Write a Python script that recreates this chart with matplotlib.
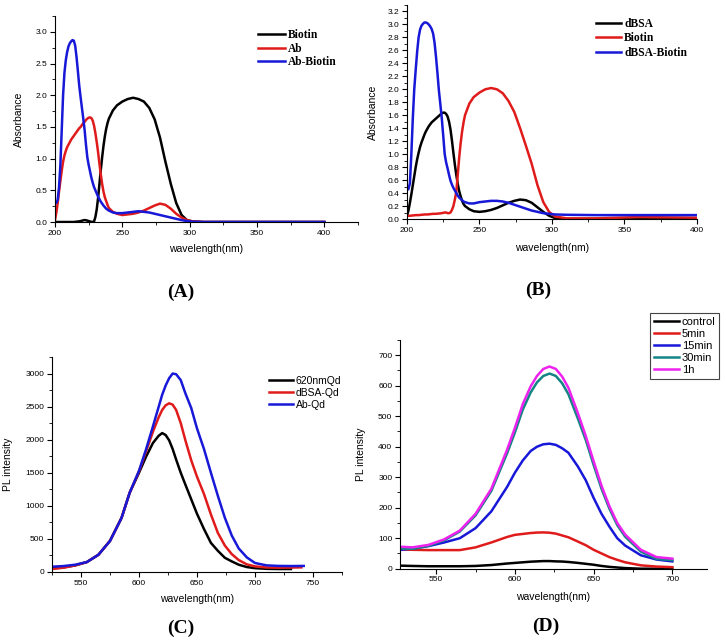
import matplotlib
matplotlib.use("Agg")
import matplotlib.pyplot as plt
from matplotlib.ticker import MultipleLocator, FormatStrFormatter

plt.rcParams["font.family"] = ["Liberation Sans", "DejaVu Sans"]

RED = "#e01b1b"
BLUE = "#1818d8"
TEAL = "#148484"
MAGENTA = "#ee22ee"

# ---- (A) absorbance: Biotin / Ab / Ab-Biotin  (1 nm steps up to 240 nm)
a_wl = list(range(200, 241)) + [243, 246, 250, 254, 258, 262, 266, 270, 274, 278, 282,
                                286, 290, 294, 298, 302, 310, 330, 360, 400]
a_biotin = [0, 0, 0, 0, 0, 0, 0, 0, 0, 0, 0, 0, 0, 0, 0, 0.003, 0.005, 0.008, 0.01, 0.015,
            0.02, 0.027, 0.03, 0.028, 0.022, 0.015, 0.008, 0.003, 0.0, 0.01, 0.08, 0.2, 0.38, 0.6, 0.82,
            1.02, 1.2, 1.35, 1.47, 1.56, 1.63,
            1.76, 1.84, 1.9, 1.94, 1.96, 1.94, 1.9, 1.8, 1.62, 1.33, 0.95,
            0.6, 0.3, 0.11, 0.03, 0.01, 0.0, 0.0, 0.0, 0.0]
a_ab = [0.03, 0.15, 0.3, 0.48, 0.65, 0.81, 0.95, 1.05, 1.12, 1.18, 1.22, 1.26, 1.3, 1.33, 1.36,
        1.39, 1.42, 1.45, 1.48, 1.5, 1.53, 1.56, 1.58, 1.61, 1.63, 1.645, 1.65, 1.64, 1.6, 1.52,
        1.4, 1.26, 1.1, 0.92, 0.75, 0.6, 0.48, 0.39, 0.33, 0.27, 0.22,
        0.16, 0.13, 0.11, 0.12, 0.13, 0.15, 0.18, 0.22, 0.26, 0.29, 0.27,
        0.21, 0.13, 0.07, 0.03, 0.01, 0.0, 0.0, 0.0, 0.0]
a_ab_biotin = [0.3, 0.3, 0.35, 0.55, 0.9, 1.45, 2.0, 2.35, 2.55, 2.68, 2.77, 2.82, 2.85, 2.87, 2.86,
               2.78, 2.6, 2.38, 2.15, 1.97, 1.8, 1.63, 1.45, 1.22, 1.02, 0.9, 0.8, 0.7, 0.62, 0.55,
               0.5, 0.45, 0.4, 0.36, 0.32, 0.29, 0.26, 0.235, 0.21, 0.195, 0.18,
               0.15, 0.14, 0.14, 0.15, 0.16, 0.17, 0.16, 0.15, 0.13, 0.11, 0.09,
               0.07, 0.05, 0.03, 0.015, 0.005, 0.0, 0.0, 0.0, 0.0]

# ---- (B) absorbance: dBSA / Biotin / dBSA-Biotin
b_wl = a_wl
b_dbsa = [0.05, 0.13, 0.25, 0.38, 0.52, 0.66, 0.8, 0.92, 1.02, 1.11, 1.18, 1.24, 1.3, 1.35, 1.39,
          1.43, 1.46, 1.49, 1.51, 1.53, 1.55, 1.57, 1.59, 1.61, 1.63, 1.64, 1.64, 1.62, 1.58, 1.5,
          1.38, 1.21, 1.02, 0.84, 0.68, 0.54, 0.43, 0.35, 0.28, 0.23, 0.2,
          0.15, 0.12, 0.11, 0.12, 0.14, 0.17, 0.21, 0.25, 0.28, 0.3, 0.29,
          0.25, 0.18, 0.11, 0.05, 0.015, 0.0, 0.0, 0.0, 0.0]
b_biotin = [0.05, 0.05, 0.05, 0.052, 0.055, 0.057, 0.06, 0.06, 0.06, 0.062, 0.065, 0.067, 0.07, 0.07, 0.07,
            0.072, 0.075, 0.077, 0.08, 0.08, 0.08, 0.082, 0.085, 0.087, 0.09, 0.095, 0.1, 0.1, 0.09, 0.09,
            0.1, 0.14, 0.2, 0.3, 0.42, 0.68, 0.95, 1.17, 1.35, 1.49, 1.6,
            1.78, 1.88, 1.95, 2.0, 2.02, 2.0, 1.94, 1.82, 1.65, 1.4, 1.13,
            0.85, 0.52, 0.26, 0.11, 0.04, 0.01, 0.01, 0.03, 0.02]
b_dbsa_biotin = [0.45, 0.46, 0.55, 1.0, 1.55, 2.0, 2.3, 2.58, 2.8, 2.92, 2.98, 3.01, 3.03, 3.03, 3.02,
                 3.0, 2.97, 2.93, 2.86, 2.72, 2.5, 2.25, 1.98, 1.77, 1.55, 1.28, 1.0, 0.87, 0.78, 0.68,
                 0.59, 0.53, 0.48, 0.44, 0.4, 0.36, 0.33, 0.31, 0.29, 0.27, 0.26,
                 0.24, 0.24, 0.26, 0.27, 0.28, 0.28, 0.27, 0.25, 0.22, 0.19, 0.16,
                 0.13, 0.11, 0.09, 0.08, 0.07, 0.065, 0.06, 0.06, 0.06]

# ---- (C) PL spectra of QDs
c_wl_qd = [525, 535, 545, 555, 565, 575, 585, 592, 600, 606, 612, 617, 620, 623, 626, 629, 632, 636,
           640, 645, 650, 656, 662, 668, 674, 680, 686, 693, 700, 710, 720, 731]
c_qd = [55, 70, 100, 150, 260, 470, 820, 1200, 1500, 1740, 1950, 2060, 2100, 2070, 1990, 1860, 1700, 1500,
        1320, 1100, 880, 650, 440, 320, 215, 160, 110, 75, 58, 48, 45, 45]
c_wl_dbsa = c_wl_qd + [740]
c_dbsa_qd = [45, 65, 100, 150, 260, 470, 820, 1200, 1520, 1820, 2120, 2340, 2450, 2520, 2550, 2530, 2450, 2250,
             1990, 1690, 1440, 1180, 870, 590, 400, 270, 180, 115, 85, 68, 65, 67, 70]
c_wl_ab = c_wl_qd + [742]
c_ab_qd = [80, 90, 110, 150, 260, 470, 820, 1200, 1530, 1850, 2200, 2500, 2680, 2820, 2930, 3000, 2990, 2900,
           2700, 2480, 2170, 1860, 1500, 1150, 820, 550, 355, 220, 136, 100, 92, 90, 92]

# ---- (D) PL vs incubation time
d_wl = [527, 535, 545, 555, 565, 575, 585, 595, 600, 605, 610, 614, 618, 622, 626, 630, 634,
        640, 645, 650, 655, 660, 665, 670, 680, 690, 700]
d_control = [10, 9, 8, 8, 8, 9, 12, 17, 19, 21, 23, 24, 25, 25, 24, 23.5, 22,
             19, 16, 13, 9, 6, 4, 2, 0, 0, 0]
d_5min = [63, 62, 61, 61, 61, 70, 86, 104, 111, 114, 117, 118.5, 119, 118, 115, 109, 103,
          89, 77, 62, 50, 38, 29, 21, 11, 7, 5]
d_15min = [62, 66, 74, 86, 100, 133, 188, 268, 315, 355, 386, 400, 408, 410, 406, 395, 380,
           335, 290, 232, 180, 138, 100, 76, 44, 30, 24]
d_30min = [66, 65, 75, 93, 122, 175, 255, 378, 447, 522, 578, 611, 632, 640, 632, 608, 572,
           492, 422, 340, 262, 197, 143, 105, 56, 32, 28]
d_1h = [72, 70, 78, 96, 125, 180, 262, 390, 462, 540, 598, 632, 655, 663, 655, 630, 593,
        510, 435, 352, 272, 205, 150, 112, 62, 38, 33]

W, H = 726, 641
fig = plt.figure(figsize=(W / 100, H / 100), dpi=100)


def px_axes(left, top, right, bottom):
    return fig.add_axes([left / W, 1 - bottom / H, (right - left) / W, (bottom - top) / H])


def style(ax, ylabel, ylab_x, xlab_y):
    for s in ("top", "right"):
        ax.spines[s].set_visible(False)
    ax.tick_params(which="both", direction="out", labelsize=6, pad=2)
    ax.tick_params(which="major", length=3.5, width=0.8)
    ax.tick_params(which="minor", length=2, width=0.6)
    ax.set_xlabel("wavelength(nm)", fontsize=7.5)
    ax.set_ylabel(ylabel, fontsize=7.5)
    ax.xaxis.set_label_coords(0.5, xlab_y)
    ax.yaxis.set_label_coords(ylab_x, 0.5)


def legend_at(ax, x, y, **kw):
    opts = dict(loc="upper left", bbox_to_anchor=(x / W, 1 - y / H), bbox_transform=fig.transFigure,
                borderaxespad=0, borderpad=0, frameon=False, handletextpad=0.25, labelspacing=0.15)
    opts.update(kw)
    return ax.legend(**opts)


lw = 1.8
bold_serif = {"family": "Liberation Serif", "weight": "bold", "size": 8.3}

# (A)
ax = px_axes(55, 16, 358, 222)
ax.plot(a_wl, a_biotin, color="black", lw=lw, label="Biotin")
ax.plot(a_wl, a_ab, color=RED, lw=lw, label="Ab")
ax.plot(a_wl, a_ab_biotin, color=BLUE, lw=lw, label="Ab-Biotin")
ax.set_xlim(200, 425)
ax.set_ylim(0, 3.25)
ax.xaxis.set_major_locator(MultipleLocator(50))
ax.xaxis.set_minor_locator(MultipleLocator(25))
ax.yaxis.set_major_locator(MultipleLocator(0.5))
ax.yaxis.set_minor_locator(MultipleLocator(0.25))
ax.yaxis.set_major_formatter(FormatStrFormatter("%.1f"))
style(ax, "Absorbance", -0.102, -0.107)
legend_at(ax, 258, 29, prop=bold_serif, handlelength=2.35)

# (B)
ax = px_axes(407, 5, 697, 219)
ax.plot(b_wl, b_dbsa, color="black", lw=lw, label="dBSA")
ax.plot(b_wl, b_biotin, color=RED, lw=lw, label="Biotin")
ax.plot(b_wl, b_dbsa_biotin, color=BLUE, lw=lw, label="dBSA-Biotin")
ax.set_xlim(200, 400)
ax.set_ylim(0, 3.3)
ax.xaxis.set_major_locator(MultipleLocator(50))
ax.xaxis.set_minor_locator(MultipleLocator(25))
ax.yaxis.set_major_locator(MultipleLocator(0.2))
ax.yaxis.set_minor_locator(MultipleLocator(0.1))
ax.yaxis.set_major_formatter(FormatStrFormatter("%.1f"))
style(ax, "Absorbance", -0.1, -0.112)
legend_at(ax, 596, 18, prop=bold_serif, handlelength=2.2, labelspacing=0.2)

# (C)
ax = px_axes(52, 357, 342, 572)
ax.plot(c_wl_qd, c_qd, color="black", lw=lw, label="620nmQd")
ax.plot(c_wl_dbsa, c_dbsa_qd, color=RED, lw=lw, label="dBSA-Qd")
ax.plot(c_wl_ab, c_ab_qd, color=BLUE, lw=lw, label="Ab-Qd")
ax.set_xlim(525, 775)
ax.set_ylim(0, 3250)
ax.xaxis.set_major_locator(MultipleLocator(50))
ax.xaxis.set_minor_locator(MultipleLocator(25))
ax.yaxis.set_major_locator(MultipleLocator(500))
ax.yaxis.set_minor_locator(MultipleLocator(250))
style(ax, "PL intensity", -0.134, -0.104)
legend_at(ax, 269, 376, fontsize=7.5, handlelength=2.3, labelspacing=0.18)

# (D)
ax = px_axes(400, 340, 707, 568.7)
ax.plot(d_wl, d_control, color="black", lw=lw, label="control")
ax.plot(d_wl, d_5min, color=RED, lw=lw, label="5min")
ax.plot(d_wl, d_15min, color=BLUE, lw=lw, label="15min")
ax.plot(d_wl, d_30min, color=TEAL, lw=lw, label="30min")
ax.plot(d_wl, d_1h, color=MAGENTA, lw=lw, label="1h")
ax.set_xlim(527, 722)
ax.set_ylim(0, 750)
ax.xaxis.set_major_locator(MultipleLocator(50))
ax.xaxis.set_minor_locator(MultipleLocator(25))
ax.yaxis.set_major_locator(MultipleLocator(100))
ax.yaxis.set_minor_locator(MultipleLocator(50))
style(ax, "PL intensity", -0.111, -0.1)
leg = legend_at(ax, 650, 313, fontsize=8, handlelength=2.25, frameon=True, fancybox=False,
                borderpad=0.35, labelspacing=0.18, framealpha=1)
leg.get_frame().set_edgecolor("#444444")
leg.get_frame().set_linewidth(0.8)

# panel letters
for lab, x, y in [("(A)", 181, 292), ("(B)", 538, 290), ("(C)", 181, 628), ("(D)", 546, 626)]:
    fig.text(x / W, 1 - y / H, lab, ha="center", va="center", fontsize=14,
             family="Liberation Serif", weight="bold")

fig.savefig("out.png", dpi=100)
